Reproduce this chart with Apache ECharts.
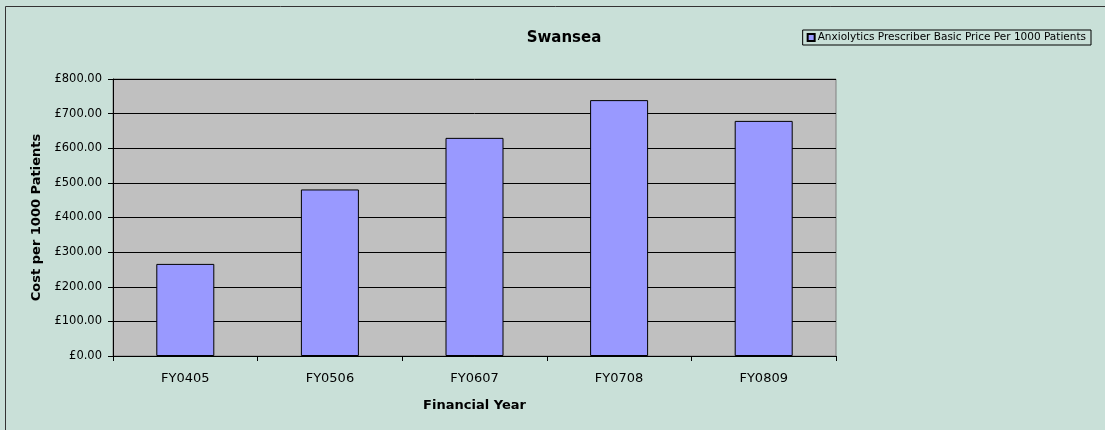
<!DOCTYPE html>
<html><head><meta charset="utf-8">
<script src="https://cdn.jsdelivr.net/npm/echarts@6/dist/echarts.min.js"></script>
<style>html,body{margin:0;padding:0;background:#c9e0d8;}#c{width:1105px;height:430px;}</style>
</head><body><div id="c"></div>
<script>
const categories = ['FY0405','FY0506','FY0607','FY0708','FY0809'];
const values = [266, 481, 630, 739, 679];
const seriesName = 'Anxiolytics Prescriber Basic Price Per 1000 Patients';
const titleText = 'Swansea';
const yAxisName = 'Cost per 1000 Patients';
const xAxisName = 'Financial Year';

const chart = echarts.init(document.getElementById('c'));
const F = 'DejaVu Sans, Verdana, sans-serif';
chart.setOption({
  backgroundColor: '#c9e0d8',
  animation: false,
  graphic: [{type:'rect', shape:{x:5.5,y:6.5,width:1200,height:600}, style:{fill:null, stroke:'#333', lineWidth:1}, silent:true}],
  title: {text: titleText, left: 559, top: 26, textAlign:'center',
    textStyle:{fontFamily:F, fontSize:15, fontWeight:'bold', color:'#000'}},
  legend: {data:[seriesName], right: 14, top: 30, orient:'horizontal',
    backgroundColor:'#c9e0d8', borderColor:'#000', borderWidth:1, padding:[2,5,2,4],
    itemWidth:7, itemHeight:7, itemGap:4, icon:'rect',
    textStyle:{fontFamily:F, fontSize:10.5, color:'#000', padding:[0,0,0,-2]}},
  grid: {left:113, right:269, top:79, bottom:74, show:true, backgroundColor:'#c0c0c0', borderColor:'#808080', borderWidth:1},
  xAxis: {type:'category', data:categories, name:xAxisName, nameLocation:'middle', nameGap:43,
    nameTextStyle:{fontFamily:F, fontSize:13, fontWeight:'bold', color:'#000'},
    axisLine:{lineStyle:{color:'#000'}}, axisTick:{show:true, alignWithLabel:false, length:5, lineStyle:{color:'#000'}},
    axisLabel:{fontFamily:F, fontSize:13, color:'#000', margin:16}},
  yAxis: {type:'value', min:0, max:800, interval:100, name:yAxisName, nameLocation:'middle', nameGap:69, nameRotate:90,
    nameTextStyle:{fontFamily:F, fontSize:13, fontWeight:'bold', color:'#000'},
    axisLine:{show:true, lineStyle:{color:'#000'}}, axisTick:{show:true, length:5, lineStyle:{color:'#000'}},
    splitLine:{lineStyle:{color:'#000', width:1}},
    axisLabel:{fontFamily:F, fontSize:11.5, color:'#000', margin:11, formatter: v => '£' + v.toFixed(2)}},
  series: [{type:'bar', name:seriesName, data:values, barWidth:58,
    itemStyle:{color:'#9999ff', borderColor:'#000', borderWidth:1}}]
});
</script></body></html>
